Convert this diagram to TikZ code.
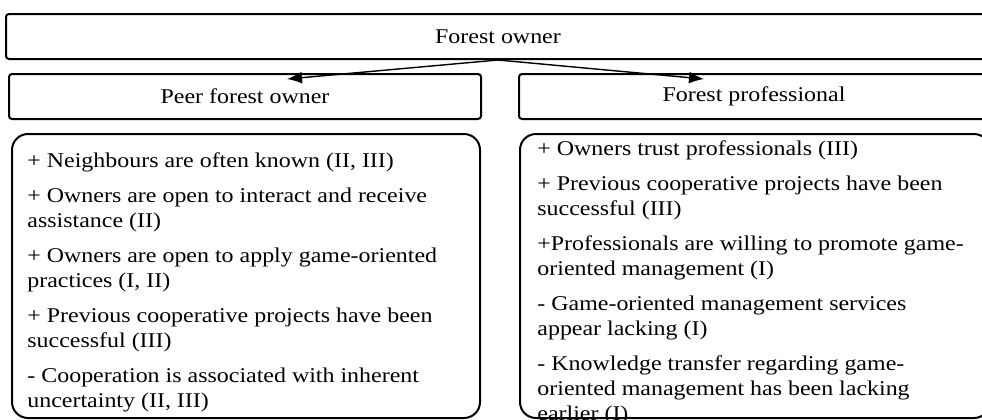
\documentclass[tikz,border=0pt]{standalone}
\usepackage{fontspec}
\setmainfont{Liberation Serif}[FakeStretch=1.14]
\usepackage{xcolor}
\usetikzlibrary{arrows.meta}

\begin{document}
\begin{tikzpicture}[x=0.5pt,y=-0.5pt,
        font=\fontsize{10.5pt}{12.5pt}\selectfont,
        headbox/.style={draw,line width=1pt,rounded corners=1.5pt,minimum height=22.5pt,inner sep=0pt},
        listbox/.style={draw,line width=1pt,rounded corners=8pt,minimum height=142pt,inner sep=0pt},
        listtext/.style={anchor=north west,align=left,inner sep=0pt},
        arr/.style={-{Latex[length=7.5pt,width=6pt]},line width=0.7pt}]
        \useasboundingbox (0,0) rectangle (982,419);
        \node[headbox,minimum width=492pt](owner) at (498,36.5) {Forest owner};
        \node[headbox,minimum width=236pt](peer) at (245,96.5) {Peer forest owner};
        \node[headbox,minimum width=235pt](prof) at (754,96.5) {Forest professional};
        \coordinate(pa) at (287,79);
        \coordinate(pb) at (704,79);
        \draw[arr](owner.south)--(pa);
        \draw[arr](owner.south)--(pb);
        \node[listbox,minimum width=234pt](peerbox) at (246,276) {};
        \node[listbox,minimum width=235pt](profbox) at (755,276) {};
        \node[listtext](peertext) at (27,152) {+ Neighbours are often known (II, III)\\[5pt]
                + Owners are open to interact and receive\\ assistance (II)\\[5pt]
                + Owners are open to apply game-oriented\\ practices (I, II)\\[5pt]
                + Previous cooperative projects have been\\ successful (III)\\[5pt]
                - Cooperation is associated with inherent\\ uncertainty (II, III)};
        \node[listtext](proftext) at (537,140) {+ Owners trust professionals (III)\\[5pt]
                + Previous cooperative projects have been\\ successful (III)\\[5pt]
                +Professionals are willing to promote game-\\oriented management (I)\\[5pt]
                - Game-oriented management services\\ appear lacking (I)\\[5pt]
                - Knowledge transfer regarding game-\\oriented management has been lacking\\ earlier (I)};
\end{tikzpicture}
\end{document}
